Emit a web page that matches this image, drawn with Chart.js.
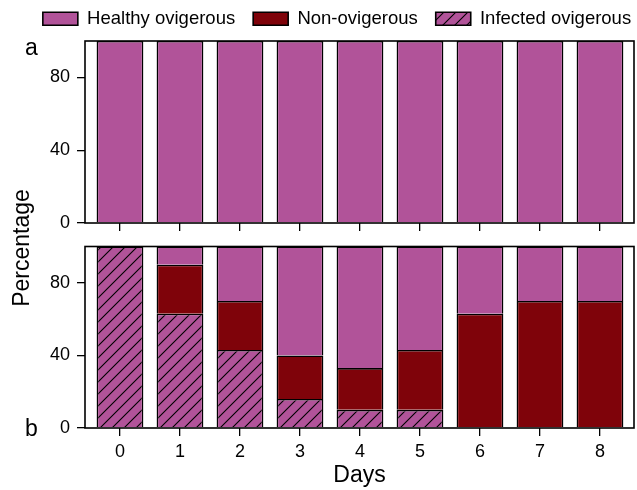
<!DOCTYPE html>
<html>
<head>
<meta charset="utf-8">
<script src="https://cdn.jsdelivr.net/npm/chart.js@4.4.1/dist/chart.umd.min.js"></script>
<style>
  html, body { margin: 0; padding: 0; background: #fff; }
  #wrap { position: relative; width: 637px; height: 490px; }
  #wrap canvas { position: absolute; left: 0; top: 0; }
</style>
</head>
<body>
<div id="wrap">
  <canvas id="panel-a" width="637" height="490"></canvas>
  <canvas id="panel-b" width="637" height="490"></canvas>
</div>
<script>
// data
const days = [0, 1, 2, 3, 4, 5, 6, 7, 8];
const seriesNames = ["Infected ovigerous", "Non-ovigerous", "Healthy ovigerous"];

// panel a
const infectedA = [0, 0, 0, 0, 0, 0, 0, 0, 0];
const nonA      = [0, 0, 0, 0, 0, 0, 0, 0, 0];
const healthyA  = [100, 100, 100, 100, 100, 100, 100, 100, 100];

// panel b
const infectedB = [100, 63, 43, 16, 10, 10, 0, 0, 0];
const nonB      = [0, 27, 27, 24, 23, 33, 63, 70, 70];
const healthyB  = [0, 10, 30, 60, 67, 57, 37, 30, 30];

const yTicks = [0, 40, 80];
const panelLabels = ["a", "b"];
const yTitle = "Percentage";
const xTitle = "Days";

const PINK = "#b15399";
const DARKRED = "#7f030a";
const FONT = "'Liberation Sans', Arial, Helvetica, sans-serif";

Chart.defaults.font.family = FONT;
Chart.defaults.color = "#000";

// hatched fill for infected
function hatch() {
  const s = 12;
  const c = document.createElement("canvas");
  c.width = s; c.height = s;
  const g = c.getContext("2d");
  g.fillStyle = PINK;
  g.fillRect(0, 0, s, s);
  g.strokeStyle = "#000";
  g.lineWidth = 1.1;
  g.beginPath();
  g.moveTo(0, s); g.lineTo(s, 0);
  g.moveTo(-2, 2); g.lineTo(2, -2);
  g.moveTo(s - 2, s + 2); g.lineTo(s + 2, s - 2);
  g.stroke();
  return g.createPattern(c, "repeat");
}
const HATCH = hatch();

function makeSets(inf, non, hea) {
  const fills = [HATCH, DARKRED, PINK];
  return [inf, non, hea].map((d, i) => ({
    label: seriesNames[i],
    data: d,
    backgroundColor: fills[i],
    borderColor: "#000",
    borderWidth: 1.6,
    barPercentage: 0.78,
    categoryPercentage: 1
  }));
}

const gridTicks = { display: true, drawOnChartArea: false, drawTicks: true, tickLength: 8, color: "#000", lineWidth: 1.3, offset: false };

function xScale(showLabels, height) {
  return {
    type: "linear", min: -0.583, max: 8.567, stacked: true, offset: false,
    afterBuildTicks: s => { s.ticks = days.map(v => ({ value: v })); },
    afterFit: s => { s.height = height; },
    grid: gridTicks,
    border: { display: false },
    ticks: { display: showLabels, padding: 5, font: { size: 18 }, color: "#000" },
    title: { display: showLabels, text: xTitle, font: { size: 23 }, color: "#000", padding: { top: 0, bottom: 1 } }
  };
}
function yScale() {
  return {
    min: 0, max: 100, stacked: true,
    afterBuildTicks: s => { s.ticks = yTicks.map(v => ({ value: v })); },
    afterFit: s => { s.width = 85; },
    grid: gridTicks,
    border: { display: false },
    ticks: { padding: 7, font: { size: 18 }, color: "#000" }
  };
}

function textPlugin(label, x, y, withTitle) {
  return {
    id: "frame",
    afterDraw(chart) {
      const { ctx, chartArea: a } = chart;
      ctx.save();
      ctx.strokeStyle = "#000";
      ctx.lineWidth = 1.6;
      ctx.strokeRect(a.left, a.top, a.right - a.left, a.bottom - a.top);
      ctx.fillStyle = "#000";
      ctx.font = "23px " + FONT;
      ctx.textAlign = "left";
      ctx.textBaseline = "alphabetic";
      ctx.fillText(label, x, y);
      if (withTitle) {
        ctx.translate(28.5, 248);
        ctx.rotate(-Math.PI / 2);
        ctx.textAlign = "center";
        ctx.fillText(yTitle, 0, 0);
      }
      ctx.restore();
    }
  };
}

const PAD_A_TOP = -8.5;
const legendShift = {
  id: "legendShift",
  afterLayout(chart) {
    chart.legend.left += 20;
    chart.legend.right += 20;
  }
};

new Chart(document.getElementById("panel-a"), {
  type: "bar",
  data: { labels: days, datasets: makeSets(infectedA, nonA, healthyA) },
  options: {
    responsive: false,
    animation: false,
    layout: { padding: { top: PAD_A_TOP, left: 0, right: 3, bottom: 490 - 223 - 15 } },
    scales: {
      x: xScale(false, 15),
      xTop: {
        type: "linear", position: "top", axis: "x",
        grid: { display: false, drawTicks: false }, border: { display: false },
        ticks: { display: false },
        afterFit: s => { s.height = Math.max(0, 41 - PAD_A_TOP - s.chart.legend.height); }
      },
      y: yScale()
    },
    plugins: {
      legend: {
        display: true, position: "top", reverse: true,
        labels: { boxWidth: 35, boxHeight: 13, padding: 18, font: { size: 18.5 }, color: "#000" }
      },
      tooltip: { enabled: false }
    }
  },
  plugins: [legendShift, textPlugin(panelLabels[0], 25, 55, false)]
});

new Chart(document.getElementById("panel-b"), {
  type: "bar",
  data: { labels: days, datasets: makeSets(infectedB, nonB, healthyB) },
  options: {
    responsive: false,
    animation: false,
    layout: { padding: { top: 246.5, left: 0, right: 3, bottom: 0 } },
    scales: {
      x: xScale(true, 62),
      y: yScale()
    },
    plugins: {
      legend: { display: false },
      tooltip: { enabled: false }
    }
  },
  plugins: [textPlugin(panelLabels[1], 25, 436, true)]
});
</script>
</body>
</html>
